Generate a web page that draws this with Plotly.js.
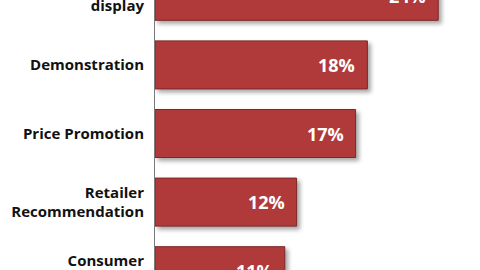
<!DOCTYPE html>
<html>
<head>
<meta charset="utf-8">
<script src="https://cdn.plot.ly/plotly-3.0.1.min.js"></script>
<style>
  html, body { margin: 0; padding: 0; width: 480px; height: 270px; overflow: hidden; background: #fff; }
  #wrap { position: relative; width: 480px; height: 270px; overflow: hidden; }
  #chart { position: absolute; left: 0; top: -70px; width: 480px; height: 410px; }
  #chart .trace.bars .point path { filter: drop-shadow(3px 3px 2px rgba(0,0,0,0.35)); }
</style>
</head>
<body>
<div id="wrap"><div id="chart"></div></div>
<script>
// Share of respondents by purchase influence
const categories = [
  "In-store<br>display",
  "Demonstration",
  "Price Promotion",
  "Retailer<br>Recommendation",
  "Consumer<br>Reviews"
];
const shares = [24, 18, 17, 12, 11];

const barColor = "#b03a3a";
const labelFont = "Open Sans, Noto Sans, sans-serif";

const trace = {
  type: "bar",
  orientation: "h",
  x: shares,
  y: categories,
  width: 0.7,
  marker: { color: barColor, line: { color: "#7e2727", width: 1 } },
  hoverinfo: "skip"
};

const valueLabels = shares.map((v, i) => ({
  x: v,
  y: categories[i],
  xref: "x",
  yref: "y",
  text: v + "%",
  showarrow: false,
  xanchor: "right",
  yanchor: "middle",
  xshift: -10,
  font: { family: labelFont, size: 18, color: "#ffffff", weight: 700 }
}));

const layout = {
  width: 480,
  height: 410,
  margin: { l: 155, r: 5, t: 31.6, b: 34.6, pad: 0 },
  paper_bgcolor: "#ffffff",
  plot_bgcolor: "#ffffff",
  showlegend: false,
  xaxis: {
    range: [0, 27.12],
    visible: false,
    fixedrange: true
  },
  yaxis: {
    type: "category",
    range: [4.5, -0.5],
    showline: true,
    linecolor: "#7a7a7a",
    linewidth: 1,
    ticks: "",
    showgrid: false,
    zeroline: false,
    ticklabelstandoff: 7,
    tickfont: { family: labelFont, size: 15, color: "#111111", weight: 700 },
    fixedrange: true
  },
  annotations: valueLabels
};

Plotly.newPlot("chart", [trace], layout, { displayModeBar: false, staticPlot: true });
</script>
</body>
</html>
